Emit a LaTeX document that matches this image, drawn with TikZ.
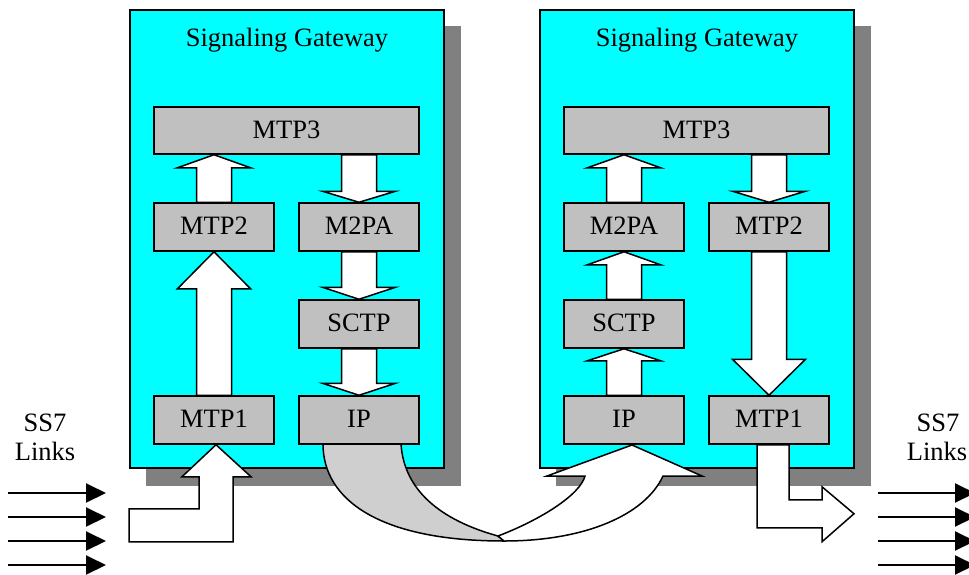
\documentclass[tikz,border=0pt]{standalone}
\usepackage{fontspec}
\setmainfont{Liberation Serif}
\usetikzlibrary{arrows.meta,calc}
\definecolor{gwcyan}{HTML}{00FFFF}
\definecolor{boxgray}{HTML}{C0C0C0}
\definecolor{shadowgray}{HTML}{808080}
\definecolor{bandgray}{HTML}{CFCFCF}
\tikzset{
  gw/.style={draw=black,fill=gwcyan,line width=1.5pt},
  gwshadow/.style={fill=shadowgray},
  layer/.style={draw=black,fill=boxgray,line width=1.5pt,inner sep=0pt,
    minimum height=48pt,minimum width=120pt,text height=17.5pt,text depth=2pt,
    font=\fontsize{26.5}{30}\selectfont},
  blk/.style={draw=black,fill=white,line width=1.5pt,line join=miter},
  band/.style={draw=black,fill=bandgray,line width=1.5pt},
  lbl/.style={anchor=base,inner sep=0pt,font=\fontsize{26.5}{30}\selectfont},
  link/.style={line width=2pt,-{Triangle[length=20pt,width=19pt]}}
}
\newcommand\blkup[3]{\draw[blk] let \p1=(#1), \p2=(#2) in
  (\x2-17.5pt,\y1) -- (\x2-17.5pt,\y2-#3) -- (\x2-36.5pt,\y2-#3) -- (\x2,\y2)
  -- (\x2+36.5pt,\y2-#3) -- (\x2+17.5pt,\y2-#3) -- (\x2+17.5pt,\y1) -- cycle;}
\newcommand\blkdown[3]{\draw[blk] let \p1=(#1), \p2=(#2) in
  (\x2-17.5pt,\y1) -- (\x2-17.5pt,\y2+#3) -- (\x2-36.5pt,\y2+#3) -- (\x2,\y2)
  -- (\x2+36.5pt,\y2+#3) -- (\x2+17.5pt,\y2+#3) -- (\x2+17.5pt,\y1) -- cycle;}
\begin{document}
\begin{tikzpicture}[x=1pt,y=-1pt]
\useasboundingbox (0,0) rectangle (969,574);
% gateways with shadows
\fill[gwshadow] (146,26) rectangle (461,486);
\fill[gwshadow] (556,26) rectangle (871,486);
\draw[gw] (130,10) rectangle (444,468);
\draw[gw] (540,10) rectangle (854,468);
\node[lbl] (t1) at (287,46) {Signaling Gateway};
\node[lbl] (t2) at (697,46) {Signaling Gateway};
% layer boxes (positions)
\path
  (286.5,130.5) node[layer,minimum width=265pt,minimum height=47pt] (mtp3L) {MTP3}
  (214,227) node[layer] (mtp2L) {MTP2}
  (359,227) node[layer] (m2paL) {M2PA}
  (359,324) node[layer] (sctpL) {SCTP}
  (214,420) node[layer] (mtp1L) {MTP1}
  (359,420) node[layer] (ipL) {IP}
  (696.5,130.5) node[layer,minimum width=265pt,minimum height=47pt] (mtp3R) {MTP3}
  (624,227) node[layer] (m2paR) {M2PA}
  (769,227) node[layer] (mtp2R) {MTP2}
  (624,324) node[layer] (sctpR) {SCTP}
  (624,420) node[layer] (ipR) {IP}
  (769,420) node[layer] (mtp1R) {MTP1};
% block arrows, left gateway
\blkup{mtp2L.north}{mtp3L.south -| mtp2L.north}{13pt}
\blkdown{mtp3L.south -| m2paL.north}{m2paL.north}{11pt}
\blkup{mtp1L.north}{mtp2L.south}{37pt}
\blkdown{m2paL.south}{sctpL.north}{12pt}
\blkdown{sctpL.south}{ipL.north}{12pt}
% block arrows, right gateway
\blkup{m2paR.north}{mtp3R.south -| m2paR.north}{13pt}
\blkdown{mtp3R.south -| mtp2R.north}{mtp2R.north}{11pt}
\blkup{sctpR.north}{m2paR.south}{13pt}
\blkup{ipR.north}{sctpR.south}{12pt}
\blkdown{mtp2R.south}{mtp1R.north}{36pt}
% input arrow into left MTP1
\draw[blk,shift={(mtp1L.south)}] (-85,64) -- (-15,64) -- (-15,32) -- (-32,32) -- (2,0)
  -- (37,32) -- (19,32) -- (19,97) -- (-85,97) -- cycle;
% output arrow from right MTP1
\draw[blk,shift={(mtp1R.south)}] (-12,0) -- (-12,83) -- (53,83) -- (53,97) -- (85,69)
  -- (53,42) -- (53,55) -- (20,55) -- (20,0) -- cycle;
% curved arrow IP -> IP
\draw[band] (323,444) .. controls (323,500) and (380,541) .. (504,541)
  -- (498,536) .. controls (440,520) and (404,490) .. (401,444) -- cycle;
\draw[blk] (498,536) .. controls (540,520) and (580,495) .. (585,476)
  -- (547,476) -- (632,445) -- (702,476) -- (663,476)
  .. controls (645,515) and (585,541) .. (504,541) -- cycle;
% redraw boxes on top of arrows
\path
  (286.5,130.5) node[layer,minimum width=265pt,minimum height=47pt] {MTP3}
  (214,227) node[layer] {MTP2}
  (359,227) node[layer] {M2PA}
  (359,324) node[layer] {SCTP}
  (214,420) node[layer] {MTP1}
  (359,420) node[layer] {IP}
  (696.5,130.5) node[layer,minimum width=265pt,minimum height=47pt] {MTP3}
  (624,227) node[layer] {M2PA}
  (769,227) node[layer] {MTP2}
  (624,324) node[layer] {SCTP}
  (624,420) node[layer] {IP}
  (769,420) node[layer] {MTP1};
% SS7 links
\node[lbl] (ss7L) at (45,431) {SS7};
\node[lbl] (lnkL) at (45,460) {Links};
\node[lbl] (ss7R) at (938,431) {SS7};
\node[lbl] (lnkR) at (937,460) {Links};
\foreach \i/\y in {1/493,2/517,3/541,4/565}{
  \coordinate (la\i) at (8,\y);
  \coordinate (lb\i) at (106,\y);
  \coordinate (ra\i) at (878,\y);
  \coordinate (rb\i) at (975,\y);
  \draw[link] (la\i) -- (lb\i);
  \draw[link] (ra\i) -- (rb\i);
}
\end{tikzpicture}
\end{document}
